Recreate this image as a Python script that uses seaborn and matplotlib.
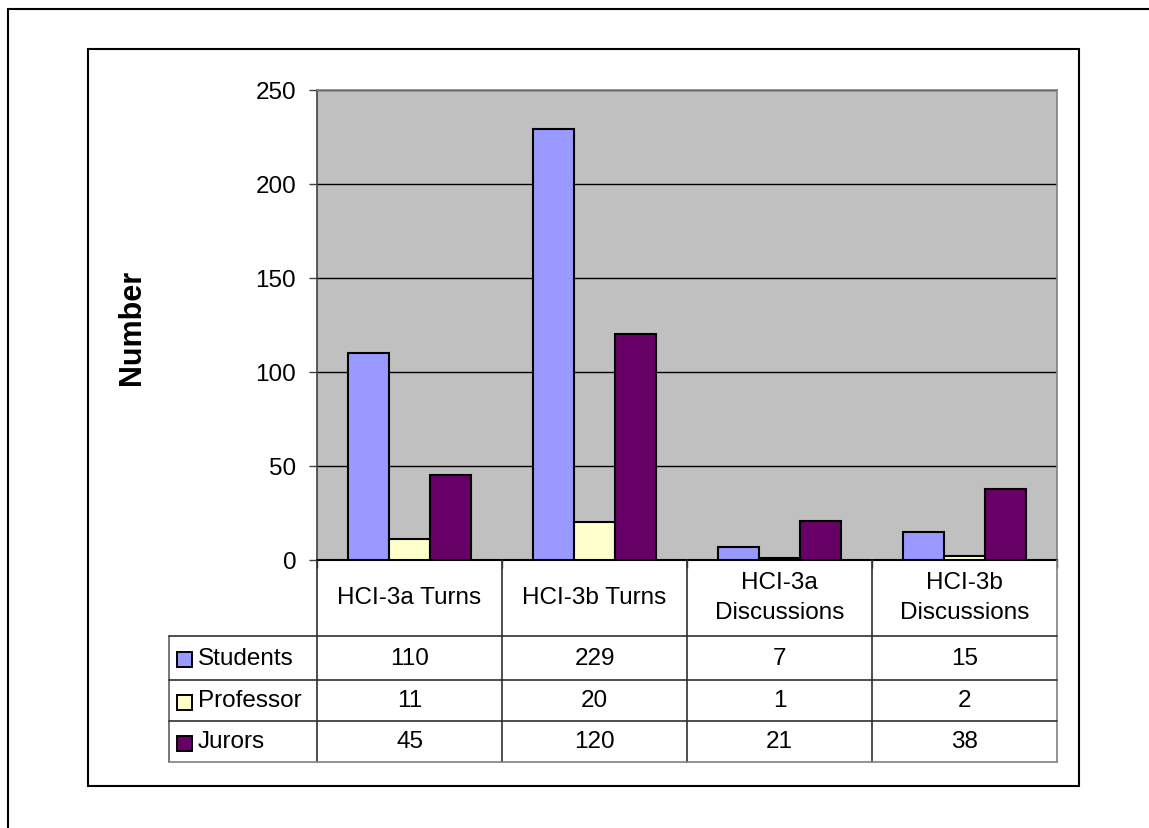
import matplotlib
matplotlib.use('Agg')
import matplotlib.pyplot as plt
import matplotlib.transforms as mtransforms
from matplotlib.lines import Line2D
from matplotlib.patches import Rectangle
import seaborn as sns
import pandas as pd

# ---------------- data ----------------
categories = ['HCI-3a Turns', 'HCI-3b Turns', 'HCI-3a\nDiscussions', 'HCI-3b\nDiscussions']
series_names = ['Students', 'Professor', 'Jurors']
students = [110, 229, 7, 15]
professor = [11, 20, 1, 2]
jurors = [45, 120, 21, 38]
y_ticks = [0, 50, 100, 150, 200, 250]
y_label = 'Number'
colors = {'Students': '#9999FF', 'Professor': '#FFFFCC', 'Jurors': '#660066'}

values = {'Students': students, 'Professor': professor, 'Jurors': jurors}
df = pd.DataFrame([{'category': c, 'series': s, 'value': values[s][i]}
                   for s in series_names for i, c in enumerate(categories)])

sns.set_theme(style='ticks')
plt.rcParams['font.family'] = ['Liberation Sans', 'DejaVu Sans']
plt.rcParams['text.color'] = 'black'

W, H = 1149, 829
fig = plt.figure(figsize=(W / 100, H / 100), dpi=100)
fig.patch.set_facecolor('white')


def fx(px):
    return px / W


def fy(py):
    return 1 - py / H


FS = 17.5

ax = fig.add_axes([fx(317), fy(561), fx(1057) - fx(317), fy(91) - fy(561)])
ax.set_facecolor('#C0C0C0')
sns.barplot(data=df, x='category', y='value', hue='series', hue_order=series_names,
            order=categories, palette=colors, width=0.67, edgecolor='black',
            linewidth=1.5, saturation=1, legend=False, ax=ax, zorder=3)

ax.set_ylim(0, 250)
ax.set_xlim(-0.5, len(categories) - 0.5)
ax.set_yticks(y_ticks)
ax.set_xticks([i - 0.5 for i in range(len(categories) + 1)])
ax.set_xticklabels([])
ax.set_xlabel('')
ax.set_ylabel('')
ax.yaxis.grid(True, color='black', linewidth=1)
ax.set_axisbelow(True)
ax.tick_params(axis='y', direction='out', length=6, width=1, color='#404040',
               pad=9, labelsize=FS, labelcolor='black')
ax.tick_params(axis='x', direction='out', length=6, width=1, color='#404040')
for side in ['top', 'right']:
    ax.spines[side].set_color('#808080')
    ax.spines[side].set_linewidth(1.2)
ax.spines['left'].set_color('#404040')
ax.spines['left'].set_linewidth(1.2)
ax.spines['bottom'].set_color('black')
ax.spines['bottom'].set_linewidth(1.5)

# y label
fig.text(fx(132), fy(327), y_label, rotation=90, ha='center', va='center',
         fontsize=22, fontweight='bold', color='black')

# ---------------- data table ----------------
trans = mtransforms.blended_transform_factory(ax.transData, fig.transFigure)
row_edges = [637, 681, 722, 763]
line_col = '#303030'
# column separators
for i in range(len(categories) + 1):
    fig.add_artist(Line2D([i - 0.5, i - 0.5], [fy(561), fy(763)], transform=trans,
                          color=line_col if i < len(categories) else '#808080', lw=1.2))
# row-label column left border
fig.add_artist(Line2D([fx(169), fx(169)], [fy(637), fy(763)], transform=fig.transFigure,
                      color='#606060', lw=1.2))
for k, r in enumerate(row_edges):
    fig.add_artist(Line2D([fx(169), fx(1057)], [fy(r), fy(r)], transform=fig.transFigure,
                          color=line_col if k < len(row_edges) - 1 else '#808080', lw=1.2))

# header labels
for i, c in enumerate(categories):
    fig.text(i, fy(598), c, transform=trans, ha='center', va='center',
             fontsize=FS, linespacing=1.5)

# rows
for k, s in enumerate(series_names):
    yc = (row_edges[k] + row_edges[k + 1]) / 2
    fig.add_artist(Rectangle((fx(177), fy(yc + 9)), fx(15), 15 / H,
                             transform=fig.transFigure, facecolor=colors[s],
                             edgecolor='black', lw=1.4))
    fig.text(fx(198), fy(yc), s, ha='left', va='center', fontsize=FS)
    for i, v in enumerate(values[s]):
        fig.text(i, fy(yc), str(v), transform=trans, ha='center', va='center', fontsize=FS)

# chart area frame
fig.add_artist(Rectangle((fx(88), fy(787)), fx(1079) - fx(88), fy(50) - fy(787),
                         transform=fig.transFigure, fill=False, edgecolor='black', lw=1.5))
# outer frame (top and left)
fig.add_artist(Line2D([fx(8), 1], [fy(10), fy(10)], transform=fig.transFigure,
                      color='black', lw=1.5))
fig.add_artist(Line2D([fx(8), fx(8)], [fy(10), 0], transform=fig.transFigure,
                      color='black', lw=1.5))

fig.savefig('out.png', dpi=100, facecolor='white')
